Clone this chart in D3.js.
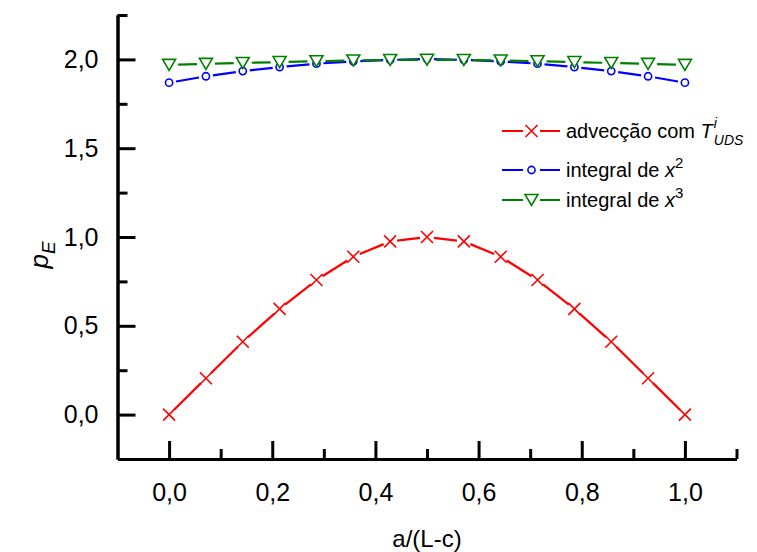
<!DOCTYPE html>
<html>
<head>
<meta charset="utf-8">
<script src="https://cdn.jsdelivr.net/npm/d3@7/dist/d3.min.js"></script>
<style>
  body { margin: 0; background: #fff; }
  svg { display: block; font-family: "Liberation Sans", Arial, sans-serif; }
</style>
</head>
<body>
<svg id="chart" width="757" height="552"></svg>
<script>
// ---- data ----
const xValues = [0, 1/14, 2/14, 3/14, 4/14, 5/14, 6/14, 7/14, 8/14, 9/14, 10/14, 11/14, 12/14, 13/14, 1];
const advecUDS = [0.0, 0.205, 0.41, 0.595, 0.758, 0.889, 0.975, 1.0, 0.975, 0.889, 0.758, 0.595, 0.41, 0.205, 0.0];
const integralX2 = [1.869, 1.905, 1.934, 1.957, 1.976, 1.989, 1.997, 2.003, 1.997, 1.989, 1.976, 1.957, 1.934, 1.905, 1.869];
const integralX3 = [1.969, 1.975, 1.980, 1.985, 1.990, 1.994, 1.997, 1.998, 1.997, 1.994, 1.990, 1.985, 1.980, 1.975, 1.969];
const xMajorTicks = [0, 0.2, 0.4, 0.6, 0.8, 1.0];
const xMinorTicks = [0.1, 0.3, 0.5, 0.7, 0.9, 1.1];
const yMajorTicks = [0, 0.5, 1.0, 1.5, 2.0];
const yMinorTicks = [0.25, 0.75, 1.25, 1.75, 2.25];

const svg = d3.select("#chart");
const x = d3.scaleLinear().domain([-0.1, 1.1]).range([117.5, 736.5]);
const y = d3.scaleLinear().domain([-0.25, 2.25]).range([459, 15]);
const fmt = d => d3.format(".1f")(d).replace(".", ",");

// ---- axes ----
const axisStyle = g => {
  g.selectAll("path.domain").attr("stroke", "#000").attr("stroke-width", 3);
  g.selectAll(".tick line").attr("stroke", "#000").attr("stroke-width", 3);
  g.selectAll(".tick text").attr("fill", "#000").attr("font-size", 25)
    .attr("font-family", "Liberation Sans, Arial, sans-serif");
};

// x axis
svg.append("g").attr("transform", `translate(0,${y(-0.25)})`)
  .call(d3.axisBottom(x).tickValues(xMinorTicks).tickSizeInner(-10).tickSizeOuter(0).tickFormat(""))
  .call(axisStyle);
svg.append("g").attr("transform", `translate(0,${y(-0.25)})`)
  .call(d3.axisBottom(x).tickValues(xMajorTicks).tickSizeInner(-18).tickSizeOuter(0).tickPadding(24).tickFormat(fmt))
  .call(axisStyle);
// y axis
svg.append("g").attr("transform", `translate(${x(-0.1)},0)`)
  .call(d3.axisLeft(y).tickValues(yMinorTicks).tickSizeInner(-10).tickSizeOuter(0).tickFormat(""))
  .call(axisStyle);
svg.append("g").attr("transform", `translate(${x(-0.1)},0)`)
  .call(d3.axisLeft(y).tickValues(yMajorTicks).tickSizeInner(-18).tickSizeOuter(0).tickPadding(19).tickFormat(fmt))
  .call(axisStyle);

// axis titles
svg.append("text").attr("x", (x(-0.1) + x(1.1)) / 2).attr("y", 547)
  .attr("text-anchor", "middle").attr("font-size", 24).text("a/(L-c)");
const yt = svg.append("text").attr("transform", "translate(48,255) rotate(-90)")
  .attr("text-anchor", "middle").attr("font-size", 26);
yt.append("tspan").attr("font-style", "italic").text("p");
yt.append("tspan").attr("font-style", "italic").attr("font-size", 19).attr("dy", 7).text("E");

// ---- series ----
const series = [
  { name: "adv", values: advecUDS, color: "#ff0000", marker: "x", gap: 7 },
  { name: "x2", values: integralX2, color: "#0000ff", marker: "o", gap: 7 },
  { name: "x3", values: integralX3, color: "#008000", marker: "v", gap: 9 }
];

function drawMarker(g, type, cx, cy, color) {
  if (type === "x") {
    const s = 6;
    g.append("path").attr("d", `M${cx - s},${cy - s}L${cx + s},${cy + s}M${cx - s},${cy + s}L${cx + s},${cy - s}`)
      .attr("stroke", color).attr("stroke-width", 1.6).attr("fill", "none");
  } else if (type === "o") {
    g.append("circle").attr("cx", cx).attr("cy", cy).attr("r", 3.6)
      .attr("stroke", color).attr("stroke-width", 1.6).attr("fill", "#fff");
  } else {
    const w = 6.5, h = 5.5;
    g.append("path").attr("d", `M${cx - w},${cy - h}L${cx + w},${cy - h}L${cx},${cy + h}Z`)
      .attr("stroke", color).attr("stroke-width", 1.6).attr("fill", "#fff");
  }
}

function segments(pts, gap) {
  const segs = [];
  for (let i = 0; i < pts.length - 1; i++) {
    const [x0, y0] = pts[i], [x1, y1] = pts[i + 1];
    const dx = x1 - x0, dy = y1 - y0, L = Math.hypot(dx, dy);
    if (L <= 2 * gap) continue;
    const ux = dx / L, uy = dy / L;
    segs.push([[x0 + ux * gap, y0 + uy * gap], [x1 - ux * gap, y1 - uy * gap]]);
  }
  return segs;
}

// draw order: blue first, green over it, red last
[series[1], series[2], series[0]].forEach(s => {
  const g = svg.append("g");
  const pts = xValues.map((xv, i) => [x(xv), y(s.values[i])]);
  segments(pts, s.gap).forEach(seg => {
    g.append("path").attr("d", d3.line()(seg)).attr("stroke", s.color)
      .attr("stroke-width", 2.2).attr("fill", "none");
  });
  pts.forEach(p => drawMarker(g, s.marker, p[0], p[1], s.color));
});

// ---- legend ----
const legendRows = [
  { s: series[0], y: 131 },
  { s: series[1], y: 170 },
  { s: series[2], y: 200 }
];
legendRows.forEach(r => {
  const g = svg.append("g");
  g.append("line").attr("x1", 502).attr("x2", 523).attr("y1", r.y).attr("y2", r.y)
    .attr("stroke", r.s.color).attr("stroke-width", 2);
  g.append("line").attr("x1", 540).attr("x2", 560).attr("y1", r.y).attr("y2", r.y)
    .attr("stroke", r.s.color).attr("stroke-width", 2);
  drawMarker(g, r.s.marker, 531.5, r.y, r.s.color);
});
const fs = 20;
const t1 = svg.append("text").attr("x", 566).attr("y", 138).attr("font-size", fs);
t1.append("tspan").text("advecção com ");
t1.append("tspan").attr("font-style", "italic").text("T");
t1.append("tspan").attr("font-style", "italic").attr("font-size", 14).attr("dy", -10).attr("dx", 1).text("i");
t1.append("tspan").attr("font-style", "italic").attr("font-size", 14).attr("dy", 17).attr("dx", -3).text("UDS");

const t2 = svg.append("text").attr("x", 566).attr("y", 177).attr("font-size", fs);
t2.append("tspan").text("integral de ");
t2.append("tspan").attr("font-style", "italic").text("x");
t2.append("tspan").attr("font-size", 15).attr("dy", -9).text("2");

const t3 = svg.append("text").attr("x", 566).attr("y", 207).attr("font-size", fs);
t3.append("tspan").text("integral de ");
t3.append("tspan").attr("font-style", "italic").text("x");
t3.append("tspan").attr("font-size", 15).attr("dy", -9).text("3");
</script>
</body>
</html>
